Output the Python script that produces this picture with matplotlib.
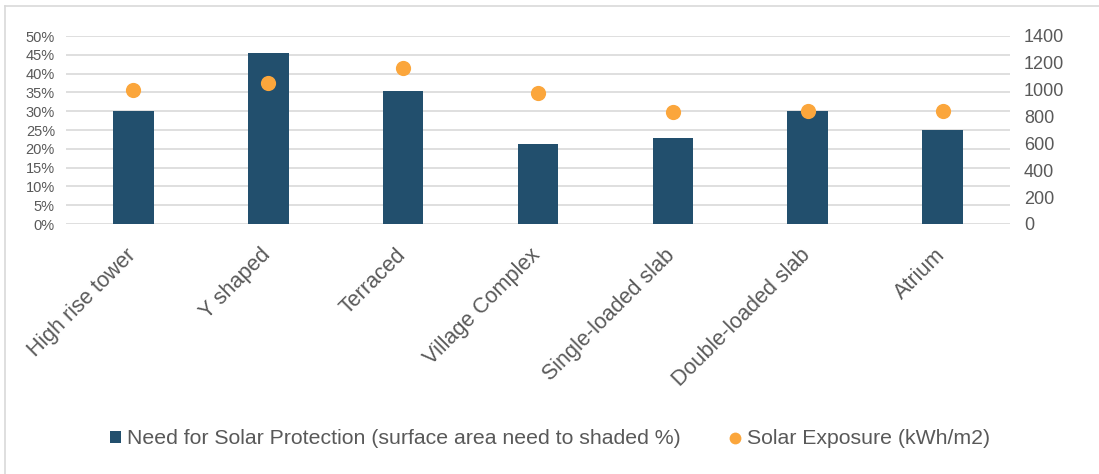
"""
Necessidade de proteção solar vs. exposição solar por tipologia de edifício.
Barras no eixo esquerdo (%) e pontos no eixo direito (kWh/m2).
"""

import matplotlib

matplotlib.use("Agg")
import matplotlib.pyplot as plt  # noqa: E402
from matplotlib.lines import Line2D  # noqa: E402
from matplotlib.patches import Patch  # noqa: E402
from matplotlib.ticker import PercentFormatter  # noqa: E402

plt.rcParams["font.family"] = ["Liberation Sans", "DejaVu Sans"]

CATEGORIAS = [
    "High rise tower",
    "Y shaped",
    "Terraced",
    "Village Complex",
    "Single-loaded slab",
    "Double-loaded slab",
    "Atrium",
]
PROTECAO_PCT = [30.0, 45.5, 35.5, 21.3, 23.0, 30.0, 25.0]
EXPOSICAO_KWH = [1000, 1050, 1165, 975, 836, 842, 842]

ROTULO_BARRAS = "Need for Solar Protection (surface area need to shaded %)"
ROTULO_PONTOS = "Solar Exposure (kWh/m2)"

COR_BARRA = "#224f6d"
COR_PONTO = "#fba63c"
COR_TEXTO = "#595959"
COR_GRADE = "#d9d9d9"

fig = plt.figure(figsize=(10.99, 4.74), dpi=100)
ax = fig.add_axes([66 / 1099, 1 - 224 / 474, 944 / 1099, 188 / 474])
ax2 = ax.twinx()

x = list(range(len(CATEGORIAS)))
ax.bar(x, PROTECAO_PCT, width=0.3, color=COR_BARRA, zorder=2)
ax2.scatter(x, EXPOSICAO_KWH, s=120, color=COR_PONTO, zorder=3, linewidths=0)

ax.set_xlim(-0.5, len(CATEGORIAS) - 0.5)
ax.set_ylim(0, 50)
ax.set_yticks(range(0, 51, 5))
ax.yaxis.set_major_formatter(PercentFormatter(decimals=0))
ax2.set_ylim(0, 1400)
ax2.set_yticks(range(0, 1401, 200))

# rótulos das categorias inclinados, ancorados logo abaixo de cada barra
ax.set_xticks(x)
ax.set_xticklabels([])
for i, nome in zip(x, CATEGORIAS):
    ax.annotate(
        nome, xy=(i, 0), xycoords=ax.get_xaxis_transform(),
        xytext=(-5.8, -15), textcoords="offset points",
        rotation=45, rotation_mode="anchor", ha="right", va="top",
        fontsize=15.5, color=COR_TEXTO, annotation_clip=False,
    )
ax.tick_params(axis="x", length=0)
ax.tick_params(axis="y", length=0, labelsize=10.5, labelcolor=COR_TEXTO, pad=8)
ax2.tick_params(axis="y", length=0, labelsize=13, labelcolor=COR_TEXTO, pad=10)

ax.grid(axis="y", color=COR_GRADE, linewidth=1.2, zorder=0)
ax.set_axisbelow(True)
for a in (ax, ax2):
    for lado in a.spines.values():
        lado.set_visible(False)

# moldura do gráfico (só esquerda e topo aparecem no recorte)
fig.add_artist(Line2D([5 / 1099, 5 / 1099], [0, 1 - 6 / 474],
                      transform=fig.transFigure, color="#d9d9d9", lw=1.2))
fig.add_artist(Line2D([5 / 1099, 1], [1 - 6 / 474, 1 - 6 / 474],
                      transform=fig.transFigure, color="#d9d9d9", lw=1.2))

alcas = [
    Patch(facecolor=COR_BARRA, edgecolor="none", label=ROTULO_BARRAS),
    Line2D([], [], marker="o", linestyle="none", markersize=8.5,
           markerfacecolor=COR_PONTO, markeredgewidth=0, label=ROTULO_PONTOS),
]
fig.legend(
    handles=alcas, loc="center", bbox_to_anchor=(550 / 1099, 1 - 439 / 474),
    ncol=2, frameon=False, fontsize=15.3, labelcolor=COR_TEXTO,
    handlelength=0.5, handleheight=0.5, handletextpad=0.3, columnspacing=2.3,
)

fig.savefig("out.png", dpi=100)
plt.close(fig)
